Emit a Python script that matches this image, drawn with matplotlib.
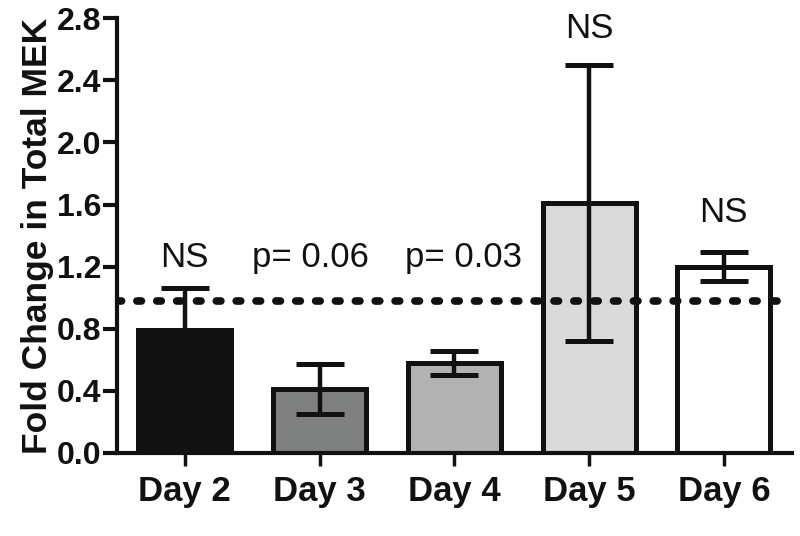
import matplotlib
matplotlib.use("Agg")
import matplotlib.pyplot as plt
import numpy as np

categories = ["Day 2", "Day 3", "Day 4", "Day 5", "Day 6"]
means = [0.79, 0.41, 0.58, 1.61, 1.20]
errors = [0.27, 0.16, 0.075, 0.89, 0.095]
bar_colors = ["#121212", "#7e8180", "#b2b2b2", "#dadada", "#ffffff"]
annotations = ["NS", "p= 0.06", "p= 0.03", "NS", "NS"]
annot_y = [1.20, 1.20, 1.20, 2.67, 1.49]
reference_level = 0.98
yticks = [0.0, 0.4, 0.8, 1.2, 1.6, 2.0, 2.4, 2.8]

plt.rcParams['font.family'] = ['Liberation Sans', 'DejaVu Sans']

fig = plt.figure(figsize=(8.0, 5.36), dpi=100)
ax = fig.add_axes([0.146, 0.155, 0.844, 0.811])

x = np.arange(len(categories))
ax.bar(x, means, width=0.69, color=bar_colors, edgecolor="#111111",
       linewidth=3.6, zorder=2)
ax.errorbar(x, means, yerr=errors, fmt='none', ecolor="#111111",
            elinewidth=3.2, capsize=17, capthick=3.6, zorder=3)

ax.axhline(reference_level, color="#111111", lw=5.5,
           linestyle=(0, (0.6, 2.0)), dash_capstyle='round', zorder=4)

annot_shift = [0.0, -0.07, 0.07, 0.0, 0.0]
for xi, txt, ty, dx in zip(x, annotations, annot_y, annot_shift):
    ax.text(xi + dx, ty, txt, ha='center', va='baseline', fontsize=25,
            color="#111111")

ax.set_xlim(-0.505, 4.506)
ax.set_ylim(0, 2.8)
ax.set_yticks(yticks)
ax.set_yticklabels([f"{v:.1f}" for v in yticks])
ax.set_xticks(x)
ax.set_xticklabels(categories)

for side in ["top", "right"]:
    ax.spines[side].set_visible(False)
for side in ["left", "bottom"]:
    ax.spines[side].set_linewidth(3)
    ax.spines[side].set_color("#111111")

ax.tick_params(axis='y', direction='out', length=10, width=3,
               color="#111111", pad=1, labelsize=23)
ax.tick_params(axis='x', direction='inout', length=18, width=2.5,
               color="#111111", pad=7, labelsize=25)
for lab in ax.get_yticklabels() + ax.get_xticklabels():
    lab.set_fontweight('bold')
    lab.set_color("#111111")

ax.set_ylabel("Fold Change in Total MEK", fontsize=25.5, fontweight='bold',
              color="#111111", labelpad=2)

fig.savefig("out.png", dpi=100, facecolor='white')
